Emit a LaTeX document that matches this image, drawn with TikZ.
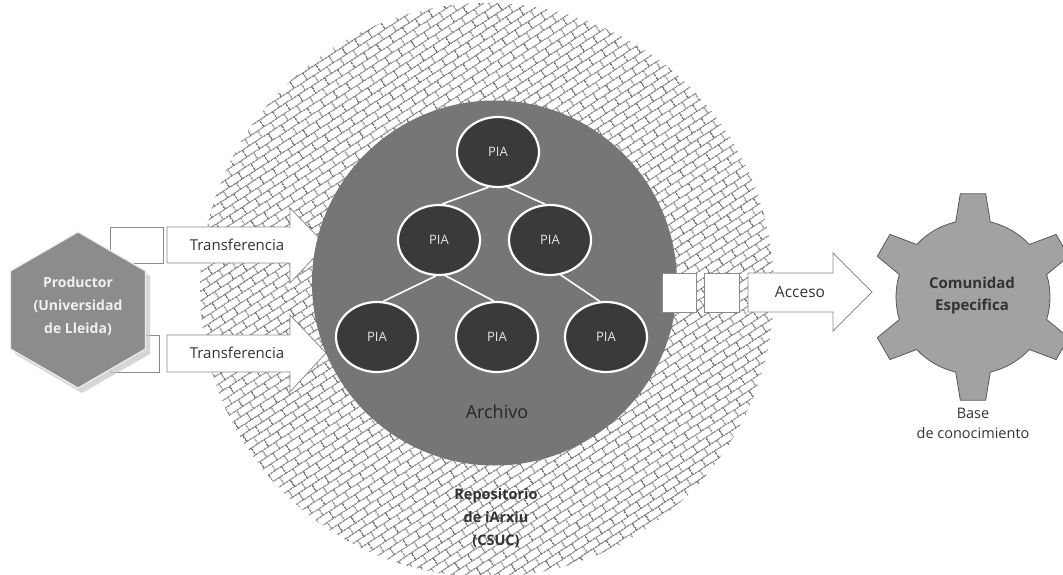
\documentclass[tikz,border=0pt]{standalone}
\usepackage{fontspec}
\setmainfont{Open Sans}
\usetikzlibrary{patterns.meta,shapes.geometric}

\tikzdeclarepattern{
  name=bricks,
  type=uncolored,
  bounding box={(0,0) and (16pt,16pt)},
  tile size={(16pt,16pt)},
  tile transformation={rotate=33},
  code={
    \draw[line width=1.1pt] (0,4pt) -- (16pt,4pt) (0,12pt) -- (16pt,12pt)
      (4pt,4pt) -- (4pt,12pt) (12pt,12pt) -- (12pt,16pt) (12pt,0pt) -- (12pt,4pt);
  }
}

\definecolor{innergray}{HTML}{767676}
\definecolor{piafill}{HTML}{3A3A3A}
\definecolor{hexfill}{HTML}{8C8C8C}
\definecolor{gearfill}{HTML}{A2A2A2}
\definecolor{boxline}{HTML}{8A8A8A}
\definecolor{darktext}{HTML}{333333}

\tikzset{
  arrowbox/.style={fill=white, draw=boxline, line width=0.8pt, line join=miter},
  pia/.style={ellipse, fill=piafill, draw=white, line width=2.2pt,
    minimum width=82pt, minimum height=70pt, inner sep=0pt,
    text=white!80!gray, font=\fontsize{13}{15}\selectfont},
  tree/.style={draw=white, line width=1.6pt},
  lbl/.style={font=\fontsize{15}{17}\selectfont, text=darktext, inner sep=0pt},
}

\begin{document}
\begin{tikzpicture}[x=1pt,y=-1pt]
\useasboundingbox (0,0) rectangle (1063,575);
\fill[white] (0,0) rectangle (1063,575);

% outer hatched repository circle
\fill[pattern={bricks}, pattern color=black!52] (487,290) circle[radius=287];

% transfer boxes and arrows
\path[arrowbox] (110,227) rectangle (163,263);
\path[arrowbox] (110,335) rectangle (159,372);
\path[arrowbox] (167,227) -- (290,227) -- (290,208) -- (326,245) -- (290,283) -- (290,263) -- (167,263) -- cycle;
\path[arrowbox] (167,335) -- (290,335) -- (290,315) -- (326,353) -- (290,392) -- (290,372) -- (167,372) -- cycle;
\node[lbl] (t1) at (237,245) {Transferencia};
\node[lbl] (t2) at (237,353) {Transferencia};

% producer hexagon
\fill[gray!45, opacity=0.7] (82,237) -- (150,276) -- (150,354) -- (82,393) -- (15,354) -- (15,276) -- cycle;
\path[fill=hexfill, draw=white!85!gray, line width=1.2pt]
  (78,232) -- (145.5,271) -- (145.5,349) -- (78,388) -- (10.5,349) -- (10.5,271) -- cycle;
\node[align=center, text=white!88!gray, font=\bfseries\fontsize{14}{23}\selectfont] (prod) at (78,306)
  {Productor\\(Universidad\\de Lleida)};

% archive circle
\fill[innergray] (494.5,283) circle[radius=182.5];

% PIA tree
\node[pia] (p1) at (498,152) {PIA};
\node[pia] (p2) at (439,240) {PIA};
\node[pia] (p3) at (550,240) {PIA};
\node[pia] (p4) at (377,337) {PIA};
\node[pia] (p5) at (497,337) {PIA};
\node[pia] (p6) at (606,337) {PIA};
\draw[tree] (p1.255) -- (p2.85);
\draw[tree] (p1.285) -- (p3.98);
\draw[tree] (p2.265) -- (p4.80);
\draw[tree] (p2.280) -- (p5.95);
\draw[tree] (p3.287) -- (p6.100);
\node[font=\fontsize{18}{20}\selectfont, text=black!85, inner sep=0pt] (arch) at (497,412) {Archivo};

% access
\path[arrowbox] (662,273) rectangle (696,312);
\path[arrowbox] (704,273) rectangle (739,312);
\path[arrowbox] (748,273) -- (833,273) -- (833,253) -- (872,292) -- (833,331) -- (833,312) -- (748,312) -- cycle;
\node[lbl, font=\fontsize{15.5}{17}\selectfont] (acc) at (800,292) {Acceso};

% gear
\begin{scope}[shift={(973,297)}]
\draw[fill=gearfill, draw=black!65, line width=0.8pt] (77:77)
  \foreach \a in {90,150,210,270,330,390} {
    -- (\a-13:77) -- (\a-7:104) -- (\a+7:104) -- (\a+13:77)
    arc[start angle=\a+13, end angle=\a+47, radius=77]
  } -- cycle;
\end{scope}
\node[align=center, text=black!80, font=\bfseries\fontsize{15}{22}\selectfont] (com) at (972,296)
  {Comunidad\\Especifica};
\node[align=center, text=black!80, font=\fontsize{14.5}{20}\selectfont] (base) at (973,423)
  {Base\\de conocimiento};

% repository label
\node[align=center, text=black!80, font=\bfseries\fontsize{14.5}{23}\selectfont] (repo) at (496,518)
  {Repositorio\\de iArxiu\\(CSUC)};
\end{tikzpicture}
\end{document}
